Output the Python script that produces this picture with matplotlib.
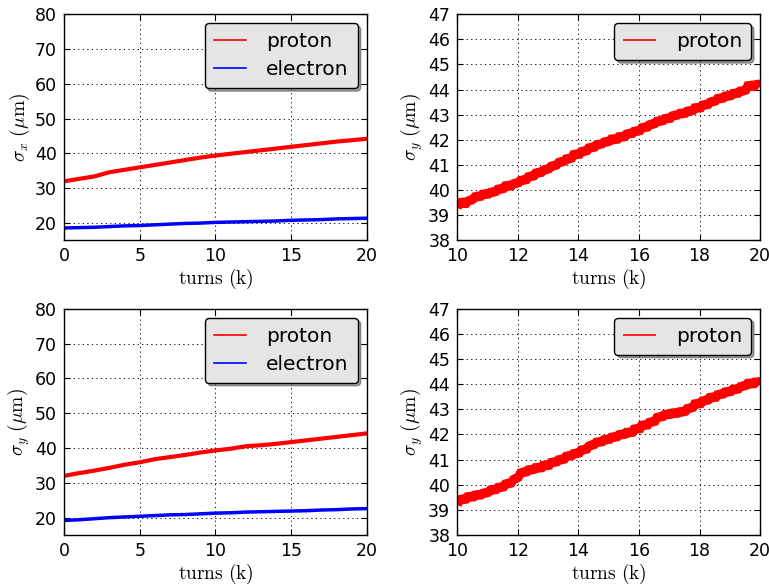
import matplotlib
matplotlib.use("Agg")
import matplotlib.pyplot as plt

# ---- data ----
turns_full = [0, 1, 2, 3, 4, 5, 6, 7, 8, 9, 10, 11, 12, 13, 14, 15, 16, 17, 18, 19, 20]
sx_proton = [32.0, 32.7, 33.4, 34.6, 35.3, 36.0, 36.7, 37.4, 38.1, 38.8, 39.4,
             39.9, 40.4, 40.9, 41.4, 41.9, 42.4, 42.9, 43.4, 43.8, 44.2]
sx_electron = [18.6, 18.7, 18.8, 19.0, 19.2, 19.3, 19.5, 19.7, 19.9, 20.0, 20.2,
               20.3, 20.4, 20.5, 20.6, 20.8, 20.9, 21.0, 21.2, 21.3, 21.4]
sy_proton = [32.0, 32.8, 33.5, 34.3, 35.2, 35.9, 36.8, 37.4, 38.0, 38.7, 39.3,
             39.8, 40.5, 40.8, 41.2, 41.7, 42.2, 42.7, 43.2, 43.7, 44.2]
sy_electron = [19.2, 19.4, 19.7, 20.0, 20.2, 20.4, 20.6, 20.8, 20.9, 21.1, 21.3,
               21.4, 21.6, 21.7, 21.8, 21.9, 22.0, 22.2, 22.3, 22.5, 22.6]

turns_zoom = [10.0, 10.125, 10.25, 10.375, 10.5, 10.625, 10.75, 10.875, 11.0, 11.125,
              11.25, 11.375, 11.5, 11.625, 11.75, 11.875, 12.0, 12.125, 12.25, 12.375,
              12.5, 12.625, 12.75, 12.875, 13.0, 13.125, 13.25, 13.375, 13.5, 13.625,
              13.75, 13.875, 14.0, 14.125, 14.25, 14.375, 14.5, 14.625, 14.75, 14.875,
              15.0, 15.125, 15.25, 15.375, 15.5, 15.625, 15.75, 15.875, 16.0, 16.125,
              16.25, 16.375, 16.5, 16.625, 16.75, 16.875, 17.0, 17.125, 17.25, 17.375,
              17.5, 17.625, 17.75, 17.875, 18.0, 18.125, 18.25, 18.375, 18.5, 18.625,
              18.75, 18.875, 19.0, 19.125, 19.25, 19.375, 19.5, 19.625, 19.75, 19.875,
              20.0]
sy_proton_zoom_top = [39.3, 39.6, 39.4, 39.6, 39.6, 39.8, 39.7, 39.9, 39.8, 39.95,
                      39.9, 40.1, 40.0, 40.25, 40.1, 40.3, 40.25, 40.45, 40.35, 40.6,
                      40.5, 40.75, 40.65, 40.85, 40.8, 41.0, 40.95, 41.15, 41.1, 41.3,
                      41.2, 41.5, 41.35, 41.6, 41.5, 41.75, 41.65, 41.85, 41.8, 41.95,
                      41.9, 42.1, 41.95, 42.2, 42.05, 42.3, 42.2, 42.4, 42.3, 42.55,
                      42.45, 42.65, 42.6, 42.8, 42.7, 42.9, 42.8, 43.0, 42.95, 43.1,
                      43.0, 43.2, 43.1, 43.35, 43.2, 43.45, 43.35, 43.55, 43.5, 43.7,
                      43.6, 43.8, 43.7, 43.9, 43.8, 44.0, 43.9, 44.25, 44.05, 44.25,
                      44.15]
sy_proton_zoom_bot = [39.2, 39.5, 39.35, 39.6, 39.45, 39.65, 39.55, 39.7, 39.65, 39.85,
                      39.75, 39.95, 39.85, 40.1, 40.0, 40.25, 40.25, 40.55, 40.45, 40.65,
                      40.55, 40.75, 40.6, 40.85, 40.7, 40.95, 40.85, 41.05, 40.95, 41.2,
                      41.1, 41.3, 41.2, 41.45, 41.35, 41.6, 41.55, 41.75, 41.65, 41.85,
                      41.75, 41.95, 41.85, 42.05, 41.95, 42.15, 42.0, 42.3, 42.15, 42.45,
                      42.3, 42.55, 42.45, 42.75, 42.65, 42.85, 42.75, 42.9, 42.8, 42.95,
                      42.85, 43.1, 43.0, 43.3, 43.15, 43.4, 43.3, 43.55, 43.4, 43.65,
                      43.55, 43.75, 43.65, 43.85, 43.75, 43.95, 43.9, 44.1, 43.95, 44.15,
                      44.0]

plt.rcParams['mathtext.fontset'] = 'cm'
plt.rcParams['font.family'] = ['DejaVu Sans']

fig = plt.figure(figsize=(7.69, 5.88), dpi=100, facecolor='white')

W = 0.394
H = 0.385
positions = [
    [0.0832, 0.591, W, H],
    [0.5945, 0.591, W, H],
    [0.0832, 0.090, W, H],
    [0.5945, 0.090, W, H],
]
axs = [fig.add_axes(p) for p in positions]

GRID_DASH = (0, (1.2, 3.5))

def style(ax):
    ax.tick_params(direction='in', top=True, right=True, labelsize=12.5,
                   length=4, width=0.8, pad=5)
    ax.grid(True, color='k', linestyle=GRID_DASH, linewidth=0.7)
    for s in ax.spines.values():
        s.set_linewidth(1.0)

def legend(ax):
    leg = ax.legend(loc='upper right', fontsize=14.5, fancybox=True, shadow=True,
                    framealpha=1.0, handlelength=1.6, handletextpad=1.0,
                    borderpad=0.45, labelspacing=0.45, borderaxespad=0.45)
    leg.get_frame().set_facecolor('#e5e5e5')
    leg.get_frame().set_edgecolor('black')
    leg.get_frame().set_linewidth(1.0)
    for line in leg.get_lines():
        line.set_linewidth(1.2)

def labels(ax, ylab):
    ax.set_xlabel(r'$\mathrm{turns\ (k)}$', fontsize=14, labelpad=1)
    ax.set_ylabel(ylab, fontsize=14, labelpad=2)

# top-left
ax = axs[0]
ax.plot(turns_full, sx_proton, color='red', lw=3.0, label='proton')
ax.plot(turns_full, sx_electron, color='blue', lw=2.5, label='electron')
ax.set_xlim(0, 20); ax.set_ylim(15, 80)
ax.set_xticks([0, 5, 10, 15, 20]); ax.set_yticks([20, 30, 40, 50, 60, 70, 80])
labels(ax, r'$\sigma_x\ (\mu\mathrm{m})$')
style(ax)
legend(ax)

# top-right
ax = axs[1]
ax.plot(turns_zoom, sy_proton_zoom_top, color='red', lw=6.5, label='proton',
        solid_joinstyle='bevel', solid_capstyle='butt')
ax.set_xlim(10, 20); ax.set_ylim(38, 47)
ax.set_xticks([10, 12, 14, 16, 18, 20]); ax.set_yticks(range(38, 48))
labels(ax, r'$\sigma_y\ (\mu\mathrm{m})$')
style(ax)
legend(ax)

# bottom-left
ax = axs[2]
ax.plot(turns_full, sy_proton, color='red', lw=3.0, label='proton')
ax.plot(turns_full, sy_electron, color='blue', lw=2.5, label='electron')
ax.set_xlim(0, 20); ax.set_ylim(15, 80)
ax.set_xticks([0, 5, 10, 15, 20]); ax.set_yticks([20, 30, 40, 50, 60, 70, 80])
labels(ax, r'$\sigma_y\ (\mu\mathrm{m})$')
style(ax)
legend(ax)

# bottom-right
ax = axs[3]
ax.plot(turns_zoom, sy_proton_zoom_bot, color='red', lw=6.5, label='proton',
        solid_joinstyle='bevel', solid_capstyle='butt')
ax.set_xlim(10, 20); ax.set_ylim(38, 47)
ax.set_xticks([10, 12, 14, 16, 18, 20]); ax.set_yticks(range(38, 48))
labels(ax, r'$\sigma_y\ (\mu\mathrm{m})$')
style(ax)
legend(ax)

fig.savefig('out.png', dpi=100, facecolor='white')
